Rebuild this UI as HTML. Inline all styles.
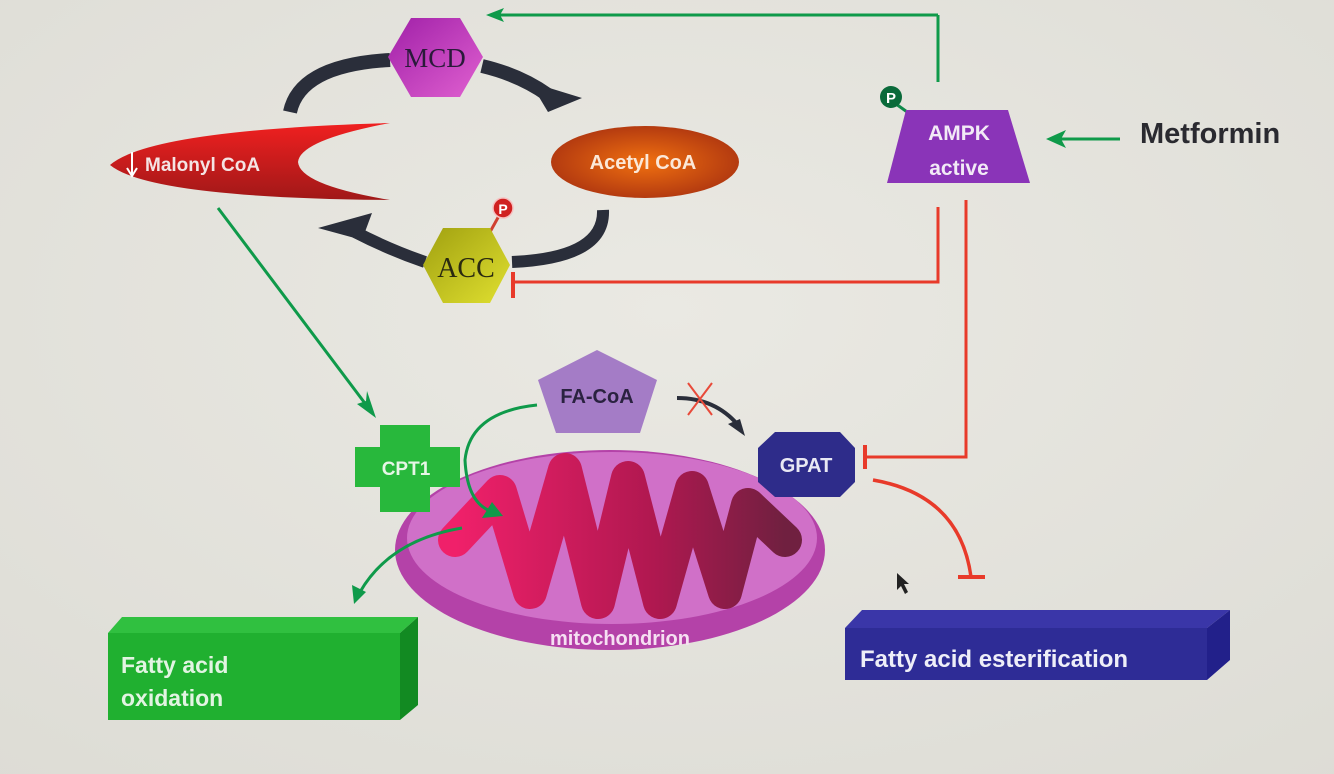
<!DOCTYPE html>
<html><head><meta charset="utf-8"><style>
html,body{margin:0;padding:0;background:#e5e4e0;}
svg{display:block;font-family:"Liberation Sans",Arial,sans-serif;}
</style></head><body>
<svg width="1334" height="774" viewBox="0 0 1334 774" xmlns="http://www.w3.org/2000/svg">
<defs>
<radialGradient id="bg" cx="0.5" cy="0.4" r="0.8"><stop offset="0" stop-color="#eae9e3"/><stop offset="1" stop-color="#dddcd5"/></radialGradient>
<radialGradient id="acetyl" cx="0.5" cy="0.5" r="0.6"><stop offset="0" stop-color="#f07010"/><stop offset="1" stop-color="#a83010"/></radialGradient>
<linearGradient id="malonyl" x1="0" y1="0" x2="0" y2="1"><stop offset="0" stop-color="#f02020"/><stop offset="1" stop-color="#a01818"/></linearGradient>
<linearGradient id="mcd" x1="0" y1="0" x2="1" y2="1"><stop offset="0" stop-color="#a020a8"/><stop offset="1" stop-color="#e060d0"/></linearGradient>
<linearGradient id="acc" x1="0" y1="0" x2="1" y2="1"><stop offset="0" stop-color="#a0a010"/><stop offset="1" stop-color="#e0e030"/></linearGradient>
<linearGradient id="cris" x1="0" y1="0" x2="1" y2="0"><stop offset="0" stop-color="#f0206a"/><stop offset="0.6" stop-color="#b01850"/><stop offset="1" stop-color="#702040"/></linearGradient>
</defs>
<rect width="1334" height="774" fill="url(#bg)"/>

<!-- dark cycle arcs -->
<path d="M290,112 Q300,65 390,60" fill="none" stroke="#2a2e3a" stroke-width="14"/>
<path d="M482,66 Q520,75 548,95" fill="none" stroke="#2a2e3a" stroke-width="14"/>
<path d="M530,82 L582,98 L548,112 Z" fill="#2a2e3a"/>
<path d="M603,210 Q605,258 512,262" fill="none" stroke="#2a2e3a" stroke-width="12"/>
<path d="M425,262 Q390,250 355,232" fill="none" stroke="#2a2e3a" stroke-width="12"/>
<path d="M318,228 L372,213 L362,240 Z" fill="#2a2e3a"/>

<!-- MCD -->
<polygon points="388,57 411,18 460,18 483,57 460,97 411,97" fill="url(#mcd)"/>
<text x="435" y="67" text-anchor="middle" font-family="Liberation Serif,serif" font-size="27" fill="#2a1a3a">MCD</text>

<!-- Malonyl CoA -->
<path d="M110,165 Q150,130 390,123 Q300,140 298,162 Q300,185 390,200 Q150,198 110,165 Z" fill="url(#malonyl)"/>
<text x="145" y="171" font-size="19" font-weight="bold" fill="#f4e4e4">Malonyl CoA</text>
<path d="M132,152 L132,174 M127,168 L132,176 L137,168" stroke="#fff" stroke-width="2" fill="none"/>

<!-- Acetyl CoA -->
<ellipse cx="645" cy="162" rx="94" ry="36" fill="url(#acetyl)"/>
<text x="643" y="169" text-anchor="middle" font-size="20" font-weight="bold" fill="#fbe8d8">Acetyl CoA</text>

<!-- ACC -->
<line x1="490" y1="232" x2="500" y2="214" stroke="#d04030" stroke-width="3"/>
<polygon points="423,265 443,228 490,228 510,265 490,303 443,303" fill="url(#acc)"/>
<text x="466" y="277" text-anchor="middle" font-family="Liberation Serif,serif" font-size="28" fill="#2a2a10">ACC</text>
<circle cx="503" cy="208" r="10" fill="#d02020" stroke="#f6c0c0" stroke-width="1.5"/>
<text x="503" y="214" text-anchor="middle" font-size="14" font-weight="bold" fill="#fff">P</text>

<!-- AMPK -->
<line x1="938" y1="82" x2="938" y2="15" stroke="#0f9a4a" stroke-width="3"/>
<line x1="938" y1="15" x2="492" y2="15" stroke="#0f9a4a" stroke-width="3"/>
<path d="M486,15 L504,8 L500,15 L504,22 Z" fill="#0f9a4a"/>
<line x1="896" y1="104" x2="910" y2="114" stroke="#0f8a4a" stroke-width="3"/>
<polygon points="906,110 1008,110 1030,183 887,183" fill="#8a34b8"/>
<text x="959" y="140" text-anchor="middle" font-size="21" font-weight="bold" fill="#f2eaf6">AMPK</text>
<text x="959" y="175" text-anchor="middle" font-size="21" font-weight="bold" fill="#f2eaf6">active</text>
<circle cx="891" cy="97" r="11" fill="#0a6a3a"/>
<text x="891" y="103" text-anchor="middle" font-size="15" font-weight="bold" fill="#fff">P</text>
<line x1="1120" y1="139" x2="1055" y2="139" stroke="#0f9a4a" stroke-width="3"/>
<path d="M1046,139 L1066,130 L1061,139 L1066,148 Z" fill="#0f9a4a"/>
<text x="1140" y="143" font-size="29" font-weight="bold" fill="#2a2a30">Metformin</text>

<!-- red inhibition lines -->
<polyline points="938,207 938,282 514,282" fill="none" stroke="#e83a2a" stroke-width="3"/>
<line x1="513" y1="272" x2="513" y2="298" stroke="#e83a2a" stroke-width="4"/>
<polyline points="966,200 966,457 866,457" fill="none" stroke="#e83a2a" stroke-width="3"/>
<line x1="865" y1="445" x2="865" y2="469" stroke="#e83a2a" stroke-width="4"/>
<path d="M873,480 Q960,495 971,577" fill="none" stroke="#e83a2a" stroke-width="3.5"/>
<line x1="958" y1="577" x2="985" y2="577" stroke="#e83a2a" stroke-width="4"/>

<!-- green malonyl->CPT1 -->
<line x1="218" y1="208" x2="370" y2="410" stroke="#0f9a4a" stroke-width="3"/>
<path d="M376,418 L357,404 L366,401 L367,391 Z" fill="#0f9a4a"/>

<!-- mitochondrion -->
<ellipse cx="610" cy="550" rx="215" ry="100" fill="#b442a8"/>
<ellipse cx="612" cy="538" rx="205" ry="86" fill="#d070c8"/>
<polyline points="455,540 500,492 530,592 565,470 598,602 628,478 660,602 692,488 725,592 748,505 785,540" fill="none" stroke="url(#cris)" stroke-width="34" stroke-linejoin="round" stroke-linecap="round"/>
<text x="620" y="645" text-anchor="middle" font-size="20" font-weight="bold" fill="#f6e0f2">mitochondrion</text>

<!-- CPT1 -->
<path d="M380,425 L430,425 L430,447 L460,447 L460,487 L430,487 L430,512 L380,512 L380,487 L355,487 L355,447 L380,447 Z" fill="#28b83c"/>
<text x="406" y="475" text-anchor="middle" font-size="19" font-weight="bold" fill="#e6f6e6">CPT1</text>

<!-- FA-CoA -->
<polygon points="597,350 657,380 640,433 556,433 538,380" fill="#a47cc6"/>
<text x="597" y="403" text-anchor="middle" font-size="20" font-weight="bold" fill="#2a2240">FA-CoA</text>
<path d="M677,398 Q715,398 738,425" fill="none" stroke="#2a2e3a" stroke-width="4"/>
<path d="M745,436 L728,424 L740,419 Z" fill="#2a2e3a"/>
<path d="M688,383 L712,415 M712,383 L688,415" stroke="#e84a3a" stroke-width="2"/>

<!-- green curves -->
<path d="M537,405 Q470,412 465,460 Q467,500 488,510" fill="none" stroke="#0f9a4a" stroke-width="3"/>
<path d="M503,516 L482,518 L492,502 Z" fill="#0f9a4a"/>
<path d="M462,528 Q390,540 360,592" fill="none" stroke="#0f9a4a" stroke-width="3"/>
<path d="M354,604 L352,585 L366,592 Z" fill="#0f9a4a"/>

<!-- GPAT -->
<polygon points="775,432 840,432 855,448 855,482 840,497 775,497 758,482 758,448" fill="#2e2c8a"/>
<text x="806" y="472" text-anchor="middle" font-size="20" font-weight="bold" fill="#e8e8f4">GPAT</text>

<!-- Fatty acid oxidation box -->
<polygon points="108,633 122,617 418,617 400,633" fill="#30c040"/>
<polygon points="400,633 418,617 418,705 400,720" fill="#128a22"/>
<rect x="108" y="633" width="292" height="87" fill="#20b030"/>
<text x="121" y="673" font-size="23" font-weight="bold" fill="#e2f4e2">Fatty acid</text>
<text x="121" y="706" font-size="23" font-weight="bold" fill="#e2f4e2">oxidation</text>

<!-- Fatty acid esterification box -->
<polygon points="845,628 862,610 1230,610 1207,628" fill="#3a36a8"/>
<polygon points="1207,628 1230,610 1230,660 1207,680" fill="#22208a"/>
<rect x="845" y="628" width="362" height="52" fill="#2e2c96"/>
<text x="860" y="667" font-size="24" font-weight="bold" fill="#eeeef8">Fatty acid esterification</text>

<!-- cursor -->
<path d="M897,573 L897,590 L901,586 L905,594 L908,592 L904,584 L909,584 Z" fill="#222"/>
</svg>
</body></html>
